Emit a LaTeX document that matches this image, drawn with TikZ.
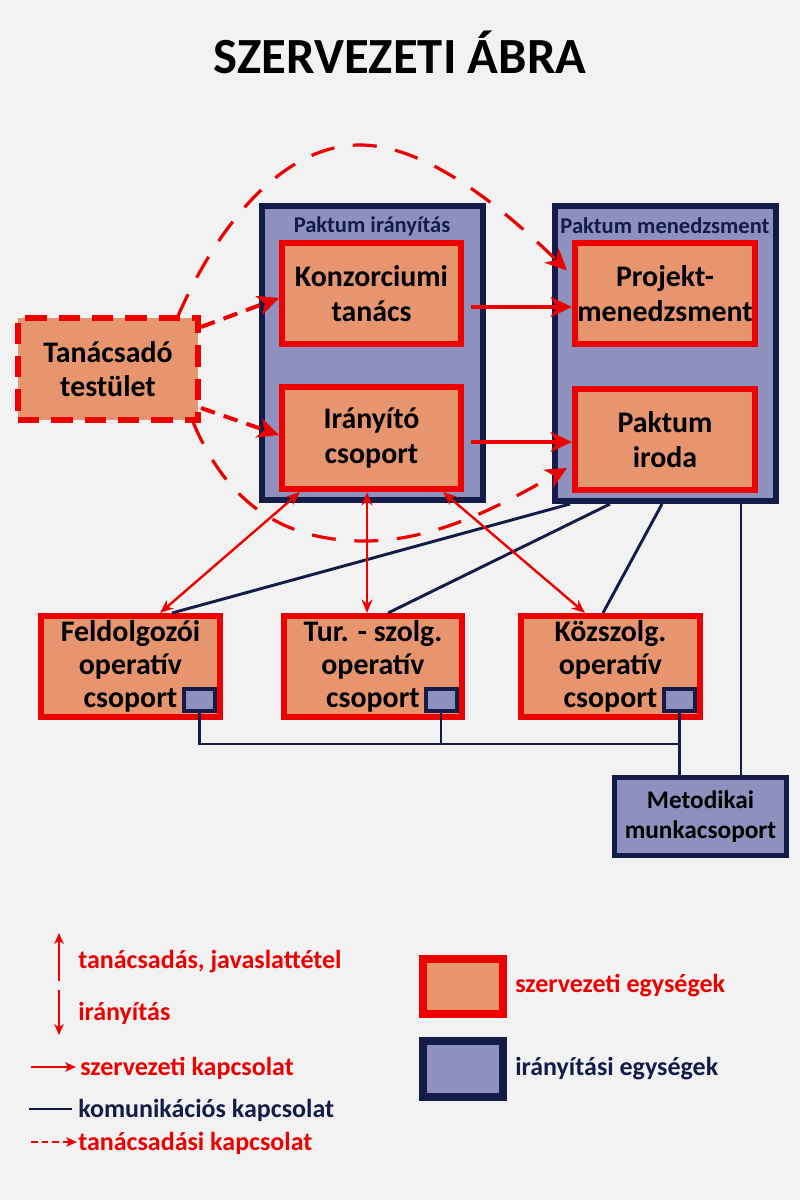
\documentclass[tikz,border=0pt]{standalone}
\usepackage{fontspec}
\setmainfont{Carlito}
\usetikzlibrary{arrows.meta,calc}
\definecolor{bgc}{HTML}{F2F2F2}
\definecolor{ored}{HTML}{EC0000}
\definecolor{salm}{HTML}{E6956F}
\definecolor{navy}{HTML}{131C48}
\definecolor{lav}{HTML}{8E90BE}
\begin{document}
\begin{tikzpicture}[x=0.75pt,y=-0.75pt,
 BigTip/.tip={Stealth[length=16pt,width=15pt,inset=4.5pt]},
 SmallTip/.tip={Stealth[length=10pt,width=8pt,inset=3pt]},
 LegTip/.tip={Stealth[length=8pt,width=7pt,inset=2pt]},
 cont/.style={draw=navy,fill=lav,line width=4.5pt,inner sep=0pt,minimum width=165.75pt},
 ubox/.style={draw=ored,fill=salm,line width=4.5pt,inner sep=0pt,align=center,text=black,
   font=\bfseries\fontsize{22.4}{26}\selectfont},
 obox/.style={draw=ored,fill=salm,line width=4.5pt,inner sep=0pt,align=center,text=black,
   font=\bfseries\fontsize{22.4}{25}\selectfont,minimum height=75.75pt},
 sq/.style={draw=navy,fill=lav,line width=3pt,inner sep=0pt,minimum width=23.25pt,minimum height=16.5pt},
 lbl/.style={font=\bfseries\fontsize{16.9}{19}\selectfont,text=navy,inner sep=0pt},
 comm/.style={draw=navy,line width=2.2pt},
 orgarrow/.style={draw=ored,line width=3pt,-{BigTip}},
 advarrow/.style={draw=ored,line width=3pt,dash pattern=on 11pt off 7pt,-{BigTip}},
 advcurve/.style={draw=ored,line width=2.4pt,dash pattern=on 18pt off 14pt,-{BigTip}},
 dbl/.style={draw=ored,line width=1.8pt,{SmallTip}-{SmallTip}},
 legtxt/.style={anchor=base west,inner sep=0pt,font=\bfseries\fontsize{19.5}{22}\selectfont},
]
\fill[bgc] (0,0) rectangle (800,1200);
\useasboundingbox (0,0) rectangle (800,1200);

% title
\node[anchor=base,inner sep=0pt,font=\bfseries\fontsize{38}{44}\selectfont] (title) at (400,73) {SZERVEZETI ÁBRA};

% containers
\node[cont,minimum height=220.5pt] (pi) at (372.5,353) {};
\node[cont,minimum height=221.25pt] (pm) at (665.5,353.5) {};
\node[lbl] (pil) at (372,226) {Paktum irányítás};
\node[lbl] (pml) at (665,226) {Paktum menedzsment};

% inner units
\node[ubox,minimum width=134.25pt,minimum height=75.75pt] (konz) at (371.5,293.5) {Konzorciumi\\tanács};
\node[ubox,minimum width=134.25pt,minimum height=76.5pt] (iran) at (371.5,438) {Irányító\\csoport};
\node[ubox,minimum width=135pt,minimum height=75.75pt] (proj) at (665,293.5) {Projekt-\\menedzsment};
\node[ubox,minimum width=135pt,minimum height=75.75pt] (iroda) at (665,439.5) {Paktum\\iroda};

% advisory board
\node[ubox,draw=ored,dash pattern=on 16pt off 9pt,minimum width=135pt,minimum height=76.5pt] (tan) at (108,369) {Tanácsadó\\testület};

% operative groups
\node[obox,minimum width=134.25pt] (feld) at (130.5,666.5) {Feldolgozói\\operatív\\csoport};
\node[obox,minimum width=133.5pt] (tur) at (373,666.5) {Tur. - szolg.\\operatív\\csoport};
\node[obox,minimum width=134.25pt] (koz) at (610.5,666.5) {Közszolg.\\operatív\\csoport};

\node[sq] (sqf) at (199.5,700) {};
\node[sq] (sqt) at (441,700) {};
\node[sq] (sqk) at (679.5,700) {};

\node[draw=navy,fill=lav,line width=3.75pt,inner sep=0pt,minimum width=129pt,minimum height=58.5pt,
  align=center,font=\bfseries\fontsize{19}{22.5}\selectfont] (met) at (700.5,816.5) {Metodikai\\munkacsoport};

% communication lines
\coordinate (hf) at (199.5,744);
\coordinate (ht) at (441,744);
\coordinate (hk) at (679.5,744);
\draw[comm] (sqf.south) -- (hf) -- (hk);
\draw[comm] (sqt.south) -- (ht);
\draw[comm] (sqk.south) -- (sqk.south |- met.north);
\draw[comm] ($(pm.south)+(75.5,0)$) -- ($(met.north)+(40.5,0)$);
\draw[comm] ($(pm.south)+(-95.5,0)$) -- ($(feld.north)+(41.5,0)$);
\draw[comm] ($(pm.south)+(-55.5,0)$) -- ($(tur.north)+(15,0)$);
\draw[comm] ($(pm.south)+(-3.5,0)$) -- ($(koz.north)+(-7.5,0)$);

% advisory curves
\coordinate (ctop) at (360,145);
\coordinate (cbot) at (365,541);
\draw[advcurve] ($(tan.north)+(70,1)$) .. controls (220,220) and (285,145) .. (ctop)
  .. controls (430,145) and (510,215) .. ($(proj.west)+(-5,-23)$);
\draw[advcurve] ($(tan.south)+(85,-1)$) .. controls (230,510) and (290,541) .. (cbot)
  .. controls (440,541) and (510,500) .. ($(iroda.west)+(-5,28.5)$);

% advisory arrows
\draw[advarrow] ($(tan.east)+(0,-42)$) -- ($(konz.west)+(0,4.5)$);
\draw[advarrow] ($(tan.east)+(0,39)$) -- ($(iran.west)+(0,-3)$);

% organisational arrows
\draw[orgarrow] ($(konz.east)+(7,13.5)$) -- ($(proj.west)+(0,13.5)$);
\draw[orgarrow] ($(iran.east)+(7,4)$) -- ($(iroda.west)+(0,2.5)$);

% double arrows
\draw[dbl] ($(iran.south)+(-71.5,0)$) -- ($(feld.north)+(29.5,0)$);
\draw[dbl] ($(iran.south)+(-4.5,0)$) -- ($(tur.north)+(-6,0)$);
\draw[dbl] ($(iran.south)+(71.5,0)$) -- ($(koz.north)+(-25.5,0)$);

% legend
\coordinate (la1) at (59,981); \coordinate (la2) at (59,933);
\coordinate (lb1) at (59,990); \coordinate (lb2) at (59,1035);
\coordinate (lc1) at (31,1067); \coordinate (lc2) at (76,1067);
\coordinate (ld1) at (29,1109); \coordinate (ld2) at (72,1109);
\coordinate (le1) at (31,1142); \coordinate (le2) at (77,1142);
\draw[draw=ored,line width=1.7pt,-{LegTip}] (la1) -- (la2);
\draw[draw=ored,line width=1.7pt,-{LegTip}] (lb1) -- (lb2);
\draw[draw=ored,line width=1.7pt,-{LegTip}] (lc1) -- (lc2);
\draw[draw=navy,line width=2pt] (ld1) -- (ld2);
\draw[draw=ored,line width=1.7pt,dash pattern=on 5pt off 3pt,-{LegTip}] (le1) -- (le2);
\node[legtxt,text=ored] (t1) at (78,968) {tanácsadás, javaslattétel};
\node[legtxt,text=ored] (t2) at (78,1020) {irányítás};
\node[legtxt,text=ored] (t3) at (80,1075) {szervezeti kapcsolat};
\node[legtxt,text=navy] (t4) at (78,1117) {komunikációs kapcsolat};
\node[legtxt,text=ored] (t5) at (78,1150) {tanácsadási kapcsolat};

\node[draw=ored,fill=salm,line width=6pt,inner sep=0pt,minimum width=60pt,minimum height=41.25pt] (lr) at (463,986.5) {};
\node[draw=navy,fill=lav,line width=6pt,inner sep=0pt,minimum width=60pt,minimum height=42pt] (ln) at (463,1069) {};
\node[legtxt,text=ored] (t6) at (515,992) {szervezeti egységek};
\node[legtxt,text=navy] (t7) at (515,1075) {irányítási egységek};
\end{tikzpicture}
\end{document}
